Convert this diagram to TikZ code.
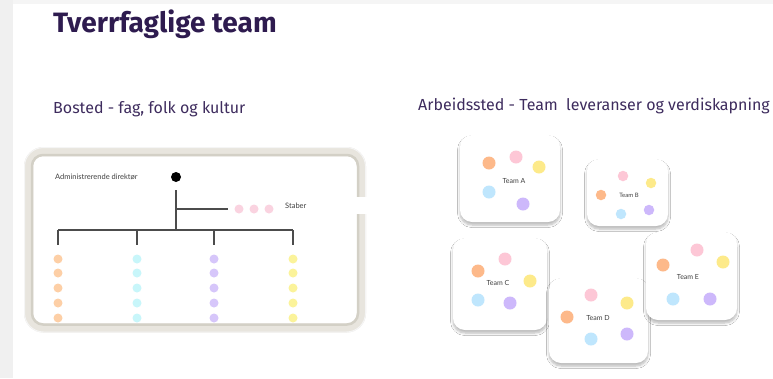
\documentclass[tikz,border=0pt]{standalone}
\usepackage{fontspec}
\setmainfont{Fira Sans}
\newfontfamily\labelfont{Lato}
\usetikzlibrary{shadows.blur}
\definecolor{titlec}{HTML}{2E1B4F}
\definecolor{subc}{HTML}{3E2C5E}
\definecolor{framec}{HTML}{E8E5DE}
\definecolor{frameinner}{HTML}{D3D0C6}
\definecolor{dotorange}{HTML}{FDB98A}
\definecolor{dotpink}{HTML}{FDC7D6}
\definecolor{dotyellow}{HTML}{FDEA8A}
\definecolor{dotblue}{HTML}{BFE6FD}
\definecolor{dotpurple}{HTML}{CDB8FB}
\definecolor{lorange}{HTML}{FDCFA6}
\definecolor{lcyan}{HTML}{C8F6FA}
\definecolor{lpurple}{HTML}{D6C6FA}
\definecolor{lyellow}{HTML}{FBF39A}
\definecolor{lpink}{HTML}{FAD3E0}
\tikzset{
  titletext/.style={anchor=base west, inner sep=0pt, text=titlec, font=\fontsize{28}{31}\selectfont\bfseries},
  subtext/.style={anchor=base west, inner sep=0pt, text=subc, font=\fontsize{16}{19}\selectfont\mdseries},
  orgtext/.style={inner sep=0pt, text=black!75, font=\labelfont\fontsize{7.5}{9}\selectfont},
  teamtext/.style={inner sep=0pt, text=black!75, font=\labelfont\fontsize{7}{9}\selectfont},
  orgline/.style={draw=black!70, line width=1.3pt},
  card/.style={fill=white, rounded corners=12pt, blur shadow={shadow xshift=0pt, shadow yshift=-3pt, shadow blur radius=2.5pt, shadow blur steps=6, shadow opacity=28}},
  dot/.style={circle, inner sep=0pt, minimum size=9pt},
  tdot/.style={circle, inner sep=0pt, minimum size=13pt},
  sdot/.style={circle, inner sep=0pt, minimum size=10.5pt}
}
\begin{document}
\begin{tikzpicture}[x=1pt,y=-1pt]
\useasboundingbox (0,0) rectangle (773,378);
\fill[white] (0,0) rectangle (773,378);
\fill[black!6] (0,0) rectangle (13,378);
\fill[black!4] (13,0) rectangle (773,4);

% titles
\node[titletext] (title) at (53,32) {Tverrfaglige team};
\node[subtext] (bosted) at (53,113) {Bosted - fag, folk og kultur};
\node[subtext] (arbeid) at (418,110) {Arbeidssted - Team\ \ leveranser og verdiskapning};

% org chart box
\fill[white] (30,155) rectangle (359,324);
\node[orgtext, anchor=west] (adm) at (55,177) {Administrerende direktør};
\node[circle, fill=black, inner sep=0pt, minimum size=10pt] (ceo) at (176,177) {};
\coordinate (v1) at (176,190);
\coordinate (vb) at (176,209);
\coordinate (v2) at (176,230);
\coordinate (sb) at (228,209);
\draw[orgline] (v1) -- (v2);
\draw[orgline] (vb) -- (sb);
\node[dot, fill=lpink] (s1) at (239,209) {};
\node[dot, fill=lpink] (s2) at (254,209) {};
\node[dot, fill=lpink] (s3) at (269,209) {};
\node[orgtext, anchor=west] (stab) at (285,206) {Staber};
\coordinate (h1) at (58,230);
\coordinate (h4) at (293,230);
\draw[orgline] (h1) -- (h4);
\foreach \x/\c [count=\i] in {58/lorange,137/lcyan,214/lpurple,293/lyellow}{
  \coordinate (top\i) at (\x,230);
  \coordinate (bot\i) at (\x,245);
  \draw[orgline] (top\i) -- (bot\i);
  \foreach \y [count=\j] in {259,273,288,303,318}{
    \node[dot, fill=\c] (d\i\j) at (\x,\y) {};
  }
}
% frame (bezel)
\draw[framec, line width=9pt, rounded corners=15pt] (28.5,151.5) rectangle (361.5,328);
\draw[frameinner, line width=2.5pt, rounded corners=11pt] (32,155) rectangle (358,324.5);
\draw[black!4, line width=1pt, rounded corners=19pt] (24.5,147.5) rectangle (365.5,332);
\fill[white] (355,197) rectangle (368,214);

% team cards
% Team A
\path[card] (460,135) rectangle (560,222);
\node[teamtext] (ta) at (514,181) {Team A};
\node[tdot, fill=dotorange] at (489,163) {};
\node[tdot, fill=dotpink] at (516,157) {};
\node[tdot, fill=dotyellow] at (539,167) {};
\node[tdot, fill=dotblue] at (489,192) {};
\node[tdot, fill=dotpurple] at (523,204) {};
% Team B
\path[card] (587,159) rectangle (668,226);
\node[teamtext, font=\labelfont\fontsize{6}{7}\selectfont] (tb) at (629,195) {Team B};
\node[sdot, fill=dotpink] at (623,176) {};
\node[sdot, fill=dotyellow] at (651,183) {};
\node[sdot, fill=dotorange] at (601,195) {};
\node[sdot, fill=dotblue] at (621,214) {};
\node[sdot, fill=dotpurple] at (649,210) {};
% Team C
\path[card] (453,238) rectangle (547,330);
\node[teamtext] (tc) at (498,283) {Team C};
\node[tdot, fill=dotpink] at (505,259) {};
\node[tdot, fill=dotorange] at (478,271) {};
\node[tdot, fill=dotyellow] at (530,281) {};
\node[tdot, fill=dotblue] at (478,300) {};
\node[tdot, fill=dotpurple] at (510,303) {};
% Team D
\path[card] (549,278) rectangle (648,363);
\node[teamtext] (td) at (598,318) {Team D};
\node[tdot, fill=dotpink] at (591,295) {};
\node[tdot, fill=dotyellow] at (627,303) {};
\node[tdot, fill=dotorange] at (567,317) {};
\node[tdot, fill=dotblue] at (591,339) {};
\node[tdot, fill=dotpurple] at (627,334) {};
% Team E
\path[card] (646,232) rectangle (737,320);
\node[teamtext] (te) at (688,277) {Team E};
\node[tdot, fill=dotpink] at (697,250) {};
\node[tdot, fill=dotyellow] at (723,262) {};
\node[tdot, fill=dotorange] at (663,265) {};
\node[tdot, fill=dotblue] at (673,299) {};
\node[tdot, fill=dotpurple] at (710,299) {};
\end{tikzpicture}
\end{document}
